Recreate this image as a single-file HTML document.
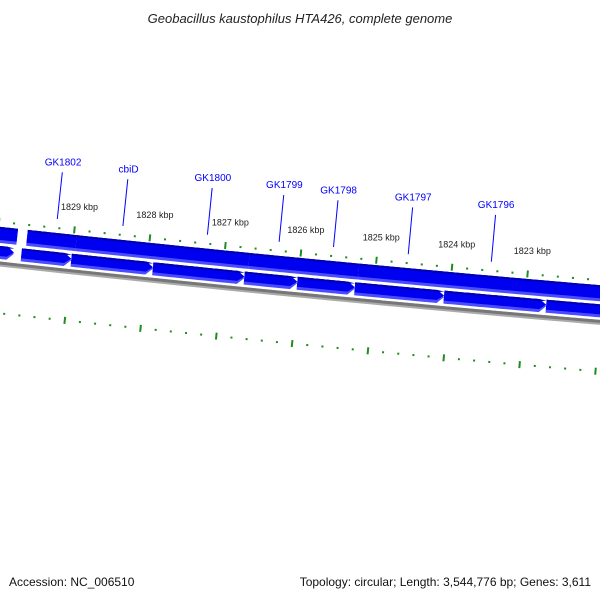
<!DOCTYPE html>
<html><head><meta charset="utf-8">
<style>
body{margin:0;background:#fff;}
svg{display:block;font-family:"Liberation Sans","DejaVu Sans",sans-serif;}
</style></head>
<body>
<svg id="map" width="600" height="600" viewBox="0 0 600 600">
<text x="300" y="23" text-anchor="middle" font-size="13" font-style="italic" fill="#222">Geobacillus kaustophilus HTA426, complete genome</text>
<g id="layer"></g>
<text x="9" y="586" font-size="12" fill="#111">Accession: NC_006510</text>
<text x="591" y="586" font-size="12" fill="#111" text-anchor="end">Topology: circular; Length: 3,544,776 bp; Genes: 3,611</text>
</svg>
<script>
// data (positions in kbp)
const tickLabels = [1829, 1828, 1827, 1826, 1825, 1824, 1823];
const geneNames = ["GK1802", "cbiD", "GK1800", "GK1799", "GK1798", "GK1797", "GK1796"];
const geneLabelPos = [1829.24, 1828.37, 1827.25, 1826.30, 1825.58, 1824.59, 1823.49];
const upperGeneStart = [1830.40, 1829.61, 1828.96, 1826.67, 1825.22];
const upperGeneEnd   = [1829.74, 1828.96, 1826.67, 1825.22, 1821.80];
const lowerGeneStart = [1830.40, 1829.66, 1829.00, 1827.92, 1826.71, 1826.01, 1825.25, 1824.07, 1822.72];
const lowerGeneEnd   = [1829.76, 1829.00, 1827.92, 1826.71, 1826.01, 1825.25, 1824.07, 1822.72, 1821.80];

const NS = "http://www.w3.org/2000/svg";
const R = 24300, CX = 2650, CY = -23892, A0 = 0.10637, K = 0.003128;
function pt(kbp, off){
  const a = A0 + (kbp - 1829) * K, r = R + off;
  return [CX - r * Math.sin(a), CY + r * Math.cos(a)];
}
const layer = document.getElementById('layer');
function mk(tag, attrs){
  const e = document.createElementNS(NS, tag);
  for (const k in attrs) e.setAttribute(k, attrs[k]);
  layer.appendChild(e); return e;
}
function arcPath(k1, k2, off){
  let s = "";
  const n = 30;
  for (let i = 0; i <= n; i++){
    const p = pt(k1 + (k2 - k1) * i / n, off);
    s += (i ? "L" : "M") + p[0].toFixed(2) + " " + p[1].toFixed(2);
  }
  return s;
}
// backbone
let e = mk('path', {d: arcPath(1831, 1821.5, 1), stroke: '#aaa', 'stroke-width': 5, fill: 'none'});


e = mk('path', {d: arcPath(1831, 1821.5, 0), stroke: '#777', 'stroke-width': 3, fill: 'none'});



function band(k1, k2, o1, o2, arrow){
  const n = 24, pts = [];
  const tipLen = arrow ? 0.09 : 0;
  const kb = k2 + (k1 > k2 ? tipLen : -tipLen);
  for (let i = 0; i <= n; i++) pts.push(pt(k1 + (kb - k1) * i / n, o1));
  if (arrow) pts.push(pt(k2, (o1 + o2) / 2));
  for (let i = n; i >= 0; i--) pts.push(pt(k1 + (kb - k1) * i / n, o2));
  return pts.map(p => p[0].toFixed(2) + "," + p[1].toFixed(2)).join(" ");
}
function gene(k1, k2, o1, o2, arrow, name){
  const g = document.createElementNS(NS, 'g');
  layer.appendChild(g);
  
  
  const add = (a, b, fill) => {
    const p = document.createElementNS(NS, 'polygon');
    p.setAttribute('points', band(k1, k2, a, b, arrow));
    p.setAttribute('fill', fill);
    g.appendChild(p);
  };
  add(o1, o2, '#4c4cff');
  add(o1, o2 - 3, '#0000f0');
  add(o1, o1 + 2, '#0000b0');
}
for (let i = 0; i < upperGeneStart.length; i++)
  gene(upperGeneStart[i], upperGeneEnd[i], -36, -20, false, 'upper-strand-gene');
for (let i = 0; i < lowerGeneStart.length; i++)
  gene(lowerGeneStart[i], lowerGeneEnd[i], -17, -4, true, 'lower-strand-gene');

// ticks
for (let t = 18300; t >= 18220; t -= 2){
  const kbp = t / 10;
  const major = (t % 10 === 0);
  [[-41, 'upper-tick'], [50, 'lower-tick']].forEach(([off, nm]) => {
    const h = major ? 3.5 : 1;
    const p1 = pt(kbp, off - h), p2 = pt(kbp, off + h);
    const l = mk('line', {x1: p1[0], y1: p1[1], x2: p2[0], y2: p2[1], stroke: '#1f8c1f', 'stroke-width': 2});
    
    
  });
}
tickLabels.forEach(k => {
  const p = pt(k, -61);
  const t = mk('text', {x: p[0] + 3, y: p[1], 'font-size': 9, fill: '#222', 'text-anchor': 'middle'});
  t.textContent = k + " kbp";
  
  
});
geneNames.forEach((nm, i) => {
  const k = geneLabelPos[i];
  const p1 = pt(k, -50), p2 = pt(k, -97);
  const l = mk('line', {x1: p1[0], y1: p1[1], x2: p2[0], y2: p2[1], stroke: '#0000ff', 'stroke-width': 1});
  
  
  const p = pt(k, -104);
  const t = mk('text', {x: p[0], y: p[1], 'font-size': 10, fill: '#0000ff', 'text-anchor': 'middle'});
  t.textContent = nm;
  
  
});
</script>
</body></html>
